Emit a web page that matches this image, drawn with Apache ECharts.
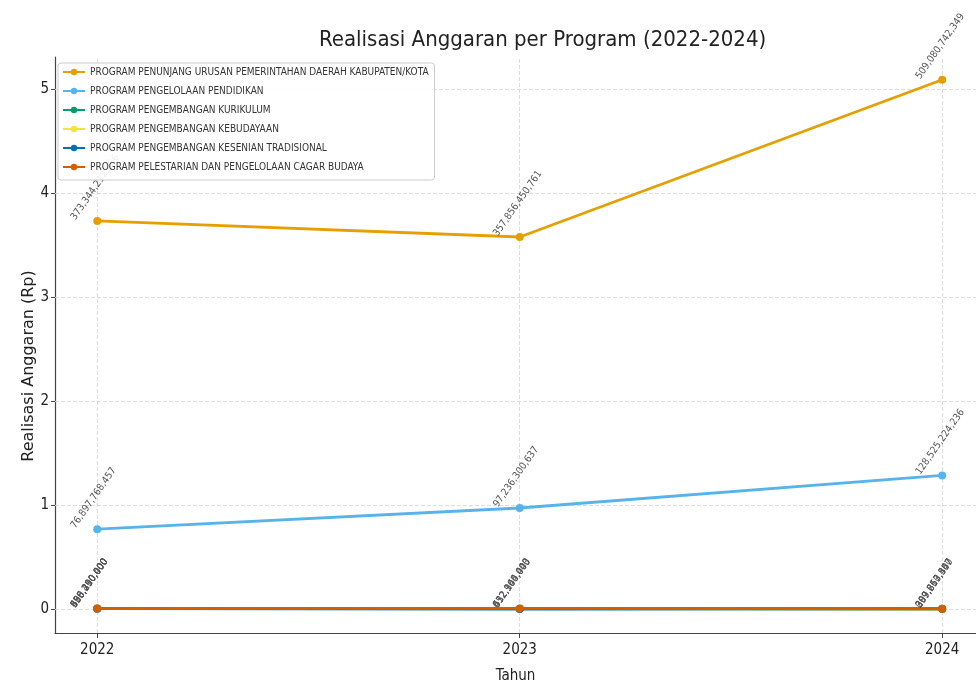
<!DOCTYPE html>
<html><head><meta charset="utf-8">
<script src="https://cdn.jsdelivr.net/npm/echarts@6/dist/echarts.min.js"></script>
<style>html,body{margin:0;padding:0;background:#fff}#c{width:976px;height:689px}</style>
</head><body><div id="c"></div>
<script>
const years = [2022, 2023, 2024];
const names = [
  'PROGRAM PENUNJANG URUSAN PEMERINTAHAN DAERAH KABUPATEN/KOTA',
  'PROGRAM PENGELOLAAN PENDIDIKAN',
  'PROGRAM PENGEMBANGAN KURIKULUM',
  'PROGRAM PENGEMBANGAN KEBUDAYAAN',
  'PROGRAM PENGEMBANGAN KESENIAN TRADISIONAL',
  'PROGRAM PELESTARIAN DAN PENGELOLAAN CAGAR BUDAYA'
];
const penunjang = [373344212456, 357856450761, 509080742349];
const pendidikan = [76897768457, 97236300637, 128525224236];
const kurikulum = [485200000, 432100000, 0];
const kebudayaan = [656290400, 552964443, 307663347];
const kesenian = [398450000, 0, 389217500];
const cagarBudaya = [520310000, 612345000, 299850457];
const colors = ['#E69F00', '#56B4E9', '#009E73', '#F0E442', '#0072B2', '#D55E00'];
const yTicks = [0, 1, 2, 3, 4, 5];
const xTicks = years;
const yAxisTitle = 'Realisasi Anggaran (Rp)';
const SCALE = 1e11;
const FONT = 'DejaVu Sans Condensed';

const allSeries = [penunjang, pendidikan, kurikulum, kebudayaan, kesenian, cagarBudaya];
const fmt = v => v.toLocaleString('en-US');

const series = allSeries.map((vals, i) => ({
  name: names[i],
  type: 'line',
  data: vals.map((v, j) => [years[j], v / SCALE, v]),
  color: colors[i],
  lineStyle: { width: 2.8 },
  symbol: 'circle',
  symbolSize: 8,
  z: 2 + i,
  labelLayout: { hideOverlap: false },
  label: {
    show: true,
    formatter: p => fmt(p.data[2]),
    position: [-16, 5],
    rotate: 55,
    align: 'left',
    verticalAlign: 'bottom',
    fontFamily: FONT,
    fontSize: 10,
    color: '#555'
  }
}));

const chart = echarts.init(document.getElementById('c'), null, { renderer: 'canvas' });
chart.setOption({
  backgroundColor: '#fff',
  animation: false,
  title: {
    text: 'Realisasi Anggaran per Program (2022-2024)',
    left: 314, top: 24,
    textStyle: { fontFamily: FONT, fontSize: 22, fontWeight: 'normal', color: '#222' }
  },
  graphic: [{
    type: 'text', x: 29, y: 366, rotation: Math.PI / 2,
    style: { text: yAxisTitle, fontFamily: 'DejaVu Sans', fontSize: 16, fill: '#222', align: 'center', verticalAlign: 'middle' }
  }],
  legend: {
    left: 58, top: 63, orient: 'vertical',
    backgroundColor: 'rgba(255,255,255,0.9)',
    borderColor: '#ccc', borderWidth: 1, borderRadius: 3,
    padding: [4, 6, 8, 4],
    itemWidth: 22, itemHeight: 8, itemGap: 9,
    textStyle: { fontFamily: FONT, fontSize: 10, color: '#333' },
    z: 10
  },
  grid: { left: 55, right: 0, top: 57, bottom: 56 },
  xAxis: {
    type: 'value', min: 2021.9, max: 2024.08,
    name: 'Tahun', nameLocation: 'middle', nameGap: 36,
    nameTextStyle: { fontFamily: FONT, fontSize: 15, color: '#222' },
    axisLine: { onZero: false, lineStyle: { color: '#444', width: 1.2 } },
    axisTick: { show: true, customValues: xTicks, length: 5, lineStyle: { color: '#444' } },
    axisLabel: { customValues: xTicks, fontFamily: FONT, fontSize: 15, color: '#222', margin: 10, formatter: v => String(v) },
    splitLine: { show: false }
  },
  yAxis: {
    type: 'value', min: -0.23, max: 5.31,
    axisLine: { show: true, onZero: false, lineStyle: { color: '#444', width: 1.2 } },
    axisTick: { show: true, customValues: yTicks, length: 4, lineStyle: { color: '#444' } },
    axisLabel: { customValues: yTicks, fontFamily: FONT, fontSize: 15, color: '#222', margin: 6 },
    splitLine: { show: false }
  },
  series: series.concat([
    {
      type: 'line', data: [], silent: true,
      markLine: {
        silent: true, symbol: 'none', label: { show: false }, z: 1,
        lineStyle: { color: '#ddd', type: 'dashed', width: 1 },
        data: yTicks.map(v => ({ yAxis: v })).concat(xTicks.map(v => ({ xAxis: v })))
      },
      z: 1
    }
  ])
});
</script></body></html>
